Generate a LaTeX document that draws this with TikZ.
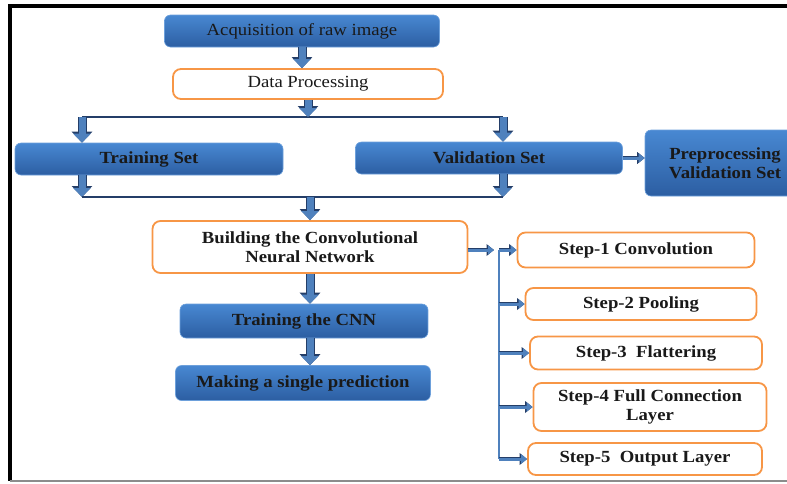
\documentclass[tikz,border=0pt]{standalone}
\usepackage{fontspec}
\setmainfont{Liberation Serif}[FakeStretch=1.1]
\usetikzlibrary{arrows.meta,positioning}
\definecolor{boxtop}{RGB}{72,136,210}
\definecolor{boxbot}{RGB}{44,94,162}
\definecolor{arrfill}{RGB}{79,129,189}
\definecolor{arrline}{RGB}{36,62,104}
\definecolor{edge}{RGB}{247,150,70}
\begin{document}
\begin{tikzpicture}[x=1pt,y=-1pt,>=Latex,
  every node/.style={font=\fontsize{17}{19}\selectfont\bfseries,align=center,text=black!90},
  bluebox/.style={rounded corners=6pt,top color=boxtop,bottom color=boxbot,draw=boxtop!80!white,line width=0.6pt},
  orbox/.style={rounded corners=8pt,draw=edge,line width=1.8pt,fill=white},
  downarr/.style={line width=7pt,draw=arrfill,-{Triangle[width=17pt,length=9pt]},
    preaction={draw=arrline,line width=9pt,-{Triangle[width=20pt,length=11pt]}}},
  smallarr/.style={line width=3pt,draw=arrfill,-{Triangle[width=9pt,length=6pt]},
    preaction={draw=arrline,line width=4.5pt,-{Triangle[width=11.5pt,length=7.5pt]}}},
  hline/.style={draw=arrline,line width=2pt},
  trunk/.style={draw=arrfill,line width=2.5pt}]
\useasboundingbox (0,0) rectangle (787,483);
% frame
\draw[line width=4pt] (8,6) -- (790,6);
\draw[line width=4pt] (10,6) -- (10,481);
\draw[black!45,line width=1.5pt] (10,481) -- (790,481);
% left column
\node[bluebox,minimum width=275pt,minimum height=32pt,font=\fontsize{17}{19}\selectfont] (acq) at (302,31) {Acquisition of raw image};
\node[orbox,minimum width=270pt,minimum height=30pt,font=\fontsize{17}{19}\selectfont] (dp) at (308,84) {Data Processing};
\node[bluebox,minimum width=268pt,minimum height=32pt] (train) at (149,159) {Training Set};
\node[bluebox,minimum width=267pt,minimum height=32pt] (valid) at (489,158) {Validation Set};
\node[bluebox,minimum width=160pt,minimum height=66pt] (prep) at (725,163) {Preprocessing\\Validation Set};
\node[orbox,minimum width=315pt,minimum height=52pt] (build) at (310,247) {Building the Convolutional\\Neural Network};
\node[bluebox,minimum width=248pt,minimum height=34pt] (tcnn) at (304,321) {Training the CNN};
\node[bluebox,minimum width=255pt,minimum height=35pt] (pred) at (303,383) {Making a single prediction};
% steps
\node[orbox,minimum width=237pt,minimum height=35pt] (s1) at (636,250) {Step-1 Convolution};
\node[orbox,minimum width=231pt,minimum height=32pt] (s2) at (641,304) {Step-2 Pooling};
\node[orbox,minimum width=232pt,minimum height=33pt] (s3) at (646,353) {Step-3\ \ Flattering};
\node[orbox,minimum width=233pt,minimum height=48pt] (s4) at (650,407) {Step-4 Full Connection\\Layer};
\node[orbox,minimum width=234pt,minimum height=32pt] (s5) at (645,459) {Step-5\ \ Output Layer};
% junctions
\coordinate (splitL) at (82,117);
\coordinate (splitR) at (503,117);
\coordinate (joinL) at (82,197);
\coordinate (joinR) at (503,197);
\coordinate (hub) at (499,250);
\coordinate (hubin) at (494,250);
% connectors
\draw[downarr] (acq.south) -- (acq.south |- dp.north);
\draw[hline] (splitL) -- (splitR);
\draw[downarr] (dp.south) -- (dp.south |- splitL);
\draw[downarr] (splitL) -- (splitL |- train.north);
\draw[downarr] (splitR) -- (splitR |- valid.north);
\draw[downarr] (splitL |- train.south) -- (joinL);
\draw[downarr] (splitR |- valid.south) -- (joinR);
\draw[hline] (joinL) -- (joinR);
\draw[downarr] (joinL -| build.north) -- (build.north);
\draw[downarr] (build.south) -- (build.south |- tcnn.north);
\draw[downarr] (build.south |- tcnn.south) -- (build.south |- pred.north);
\draw[smallarr] (valid.east) -- (valid.east -| prep.west);
\draw[smallarr] (build.east |- hubin) -- (hubin);
\draw[trunk] (hub) -- (hub |- s5.west);
\foreach \s in {s1,s2,s3,s4,s5}
  \draw[smallarr] (hub |- \s.west) -- (\s.west);
\end{tikzpicture}
\end{document}
